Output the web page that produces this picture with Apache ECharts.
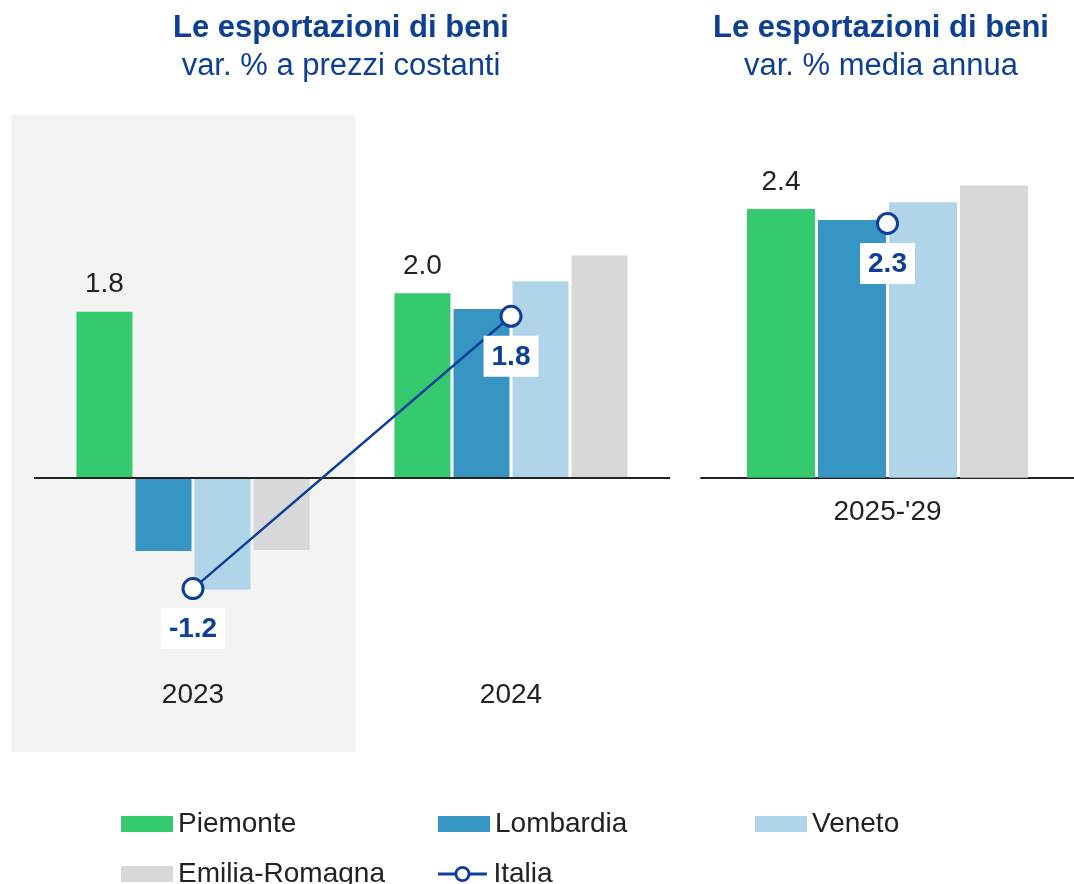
<!DOCTYPE html>
<html>
<head>
<meta charset="utf-8">
<script src="https://cdn.jsdelivr.net/npm/echarts@6/dist/echarts.min.js"></script>
<style>
html,body{margin:0;padding:0;background:#fff;}
#chart{width:1074px;height:884px;}
</style>
</head>
<body>
<div id="chart"></div>
<script>
// categories
const years = ['2023', '2024'];
const period = ["2025-'29"];

// var. % a prezzi costanti
const piemonte = [1.8, 2.0];
const lombardia = [-0.8, 1.83];
const veneto = [-1.22, 2.13];
const emilia = [-0.79, 2.41];
const italia = [-1.21, 1.75];

// var. % media annua 2025-'29
const piemonteAvg = [2.4];
const lombardiaAvg = [2.3];
const venetoAvg = [2.46];
const emiliaAvg = [2.61];
const italiaAvg = [2.27];

const colors = ['#36ca6e', '#3795c4', '#b0d5e8', '#d8d8db', '#0d3f99'];

const FONT = 'Liberation Sans, Arial, sans-serif';
const blue = '#0d3f94';

// legend icon for Italia: line with an open circle
const lineDot = 'path://M0,6.5H18.5V9.5H0Z M33.5,6.5H52V9.5H33.5Z ' +
    'M17.5,8A8.5,8.5 0 1,1 34.5,8A8.5,8.5 0 1,1 17.5,8Z M20.5,8A5.5,5.5 0 1,0 31.5,8A5.5,5.5 0 1,0 20.5,8Z';

function bar(name, data, grid, color, opts) {
    const s = {
        name: name,
        type: 'bar',
        xAxisIndex: grid,
        yAxisIndex: grid,
        data: data,
        barWidth: grid === 0 ? 56 : 68,
        barGap: grid === 0 ? '5.4%' : '4.4%',
        itemStyle: {color: color},
        emphasis: {disabled: true}
    };
    return Object.assign(s, opts || {});
}

const valueLabel = {
    show: true,
    position: 'top',
    distance: 13,
    fontSize: 28,
    fontFamily: FONT,
    color: '#222',
    formatter: p => p.value.toFixed(1)
};

function italiaLine(data, grid) {
    return {
        name: 'Italia',
        type: 'line',
        xAxisIndex: grid,
        yAxisIndex: grid,
        data: data,
        z: 5,
        symbol: 'circle',
        symbolSize: 20,
        showAllSymbol: true,
        lineStyle: {color: colors[4], width: 2.5},
        itemStyle: {color: '#fff', borderColor: colors[4], borderWidth: 3},
        label: {
            show: true,
            position: 'bottom',
            distance: 8,
            fontSize: 28,
            fontWeight: 'bold',
            fontFamily: FONT,
            color: colors[4],
            backgroundColor: '#fff',
            padding: [5, 8, 4, 8],
            lineHeight: 32,
            formatter: p => p.value.toFixed(1)
        },
        emphasis: {disabled: true}
    };
}

const chart = echarts.init(document.getElementById('chart'));

const titleStyle = {fontSize: 31, fontWeight: 'bold', color: blue, fontFamily: FONT};
const subStyle = {fontSize: 31, color: blue, fontFamily: FONT};

const option = {
    animation: false,
    textStyle: {fontFamily: FONT},
    title: [
        {
            text: 'Le esportazioni di beni',
            subtext: 'var. % a prezzi costanti',
            left: 341, top: 13, padding: 0, itemGap: 7,
            textAlign: 'center',
            textStyle: titleStyle,
            subtextStyle: subStyle
        },
        {
            text: 'Le esportazioni di beni',
            subtext: 'var. % media annua',
            left: 881, top: 13, padding: 0, itemGap: 7,
            textAlign: 'center',
            textStyle: titleStyle,
            subtextStyle: subStyle
        }
    ],
    legend: {
        left: 121, top: 799, width: 960, padding: 0,
        itemWidth: 52, itemHeight: 16, itemGap: 0,
        textStyle: {fontSize: 28, color: '#222', width: 260, lineHeight: 50, fontFamily: FONT},
        data: [
            {name: 'Piemonte', icon: 'rect'},
            {name: 'Lombardia', icon: 'rect'},
            {name: 'Veneto', icon: 'rect'},
            {name: 'Emilia-Romagna', icon: 'rect'},
            {name: 'Italia', icon: lineDot, itemStyle: {color: colors[4], borderWidth: 0}}
        ],
        selectedMode: false
    },
    graphic: [{
        type: 'rect',
        z: -10,
        shape: {x: 11, y: 115, width: 344, height: 637},
        style: {fill: '#f3f3f3'}
    }],
    grid: [
        {left: 34, top: 201.3, width: 636, height: 460},
        {left: 701, top: 141.7, width: 373, height: 336}
    ],
    xAxis: [
        {
            type: 'category', gridIndex: 0, data: years,
            axisLine: {show: false}, axisTick: {show: false},
            axisLabel: {fontSize: 28, color: '#222', margin: 20, fontFamily: FONT}
        },
        {
            type: 'category', gridIndex: 1, data: period,
            axisLine: {show: true, lineStyle: {color: '#222', width: 2}}, axisTick: {show: false},
            axisLabel: {fontSize: 28, color: '#222', margin: 21, fontFamily: FONT}
        }
    ],
    yAxis: [
        {type: 'value', gridIndex: 0, min: -2, max: 3, show: false, splitLine: {show: false}},
        {type: 'value', gridIndex: 1, min: 0, max: 3, show: false, splitLine: {show: false}}
    ],
    series: [
        bar('Piemonte', piemonte, 0, colors[0], {
            label: valueLabel,
            markLine: {
                silent: true,
                symbol: 'none',
                label: {show: false},
                lineStyle: {color: '#222', width: 2, type: 'solid'},
                data: [{yAxis: 0}]
            }
        }),
        bar('Lombardia', lombardia, 0, colors[1]),
        bar('Veneto', veneto, 0, colors[2]),
        bar('Emilia-Romagna', emilia, 0, colors[3]),
        italiaLine(italia, 0),
        bar('Piemonte', piemonteAvg, 1, colors[0], {label: valueLabel}),
        bar('Lombardia', lombardiaAvg, 1, colors[1]),
        bar('Veneto', venetoAvg, 1, colors[2]),
        bar('Emilia-Romagna', emiliaAvg, 1, colors[3]),
        italiaLine(italiaAvg, 1)
    ]
};

chart.setOption(option);
</script>
</body>
</html>
